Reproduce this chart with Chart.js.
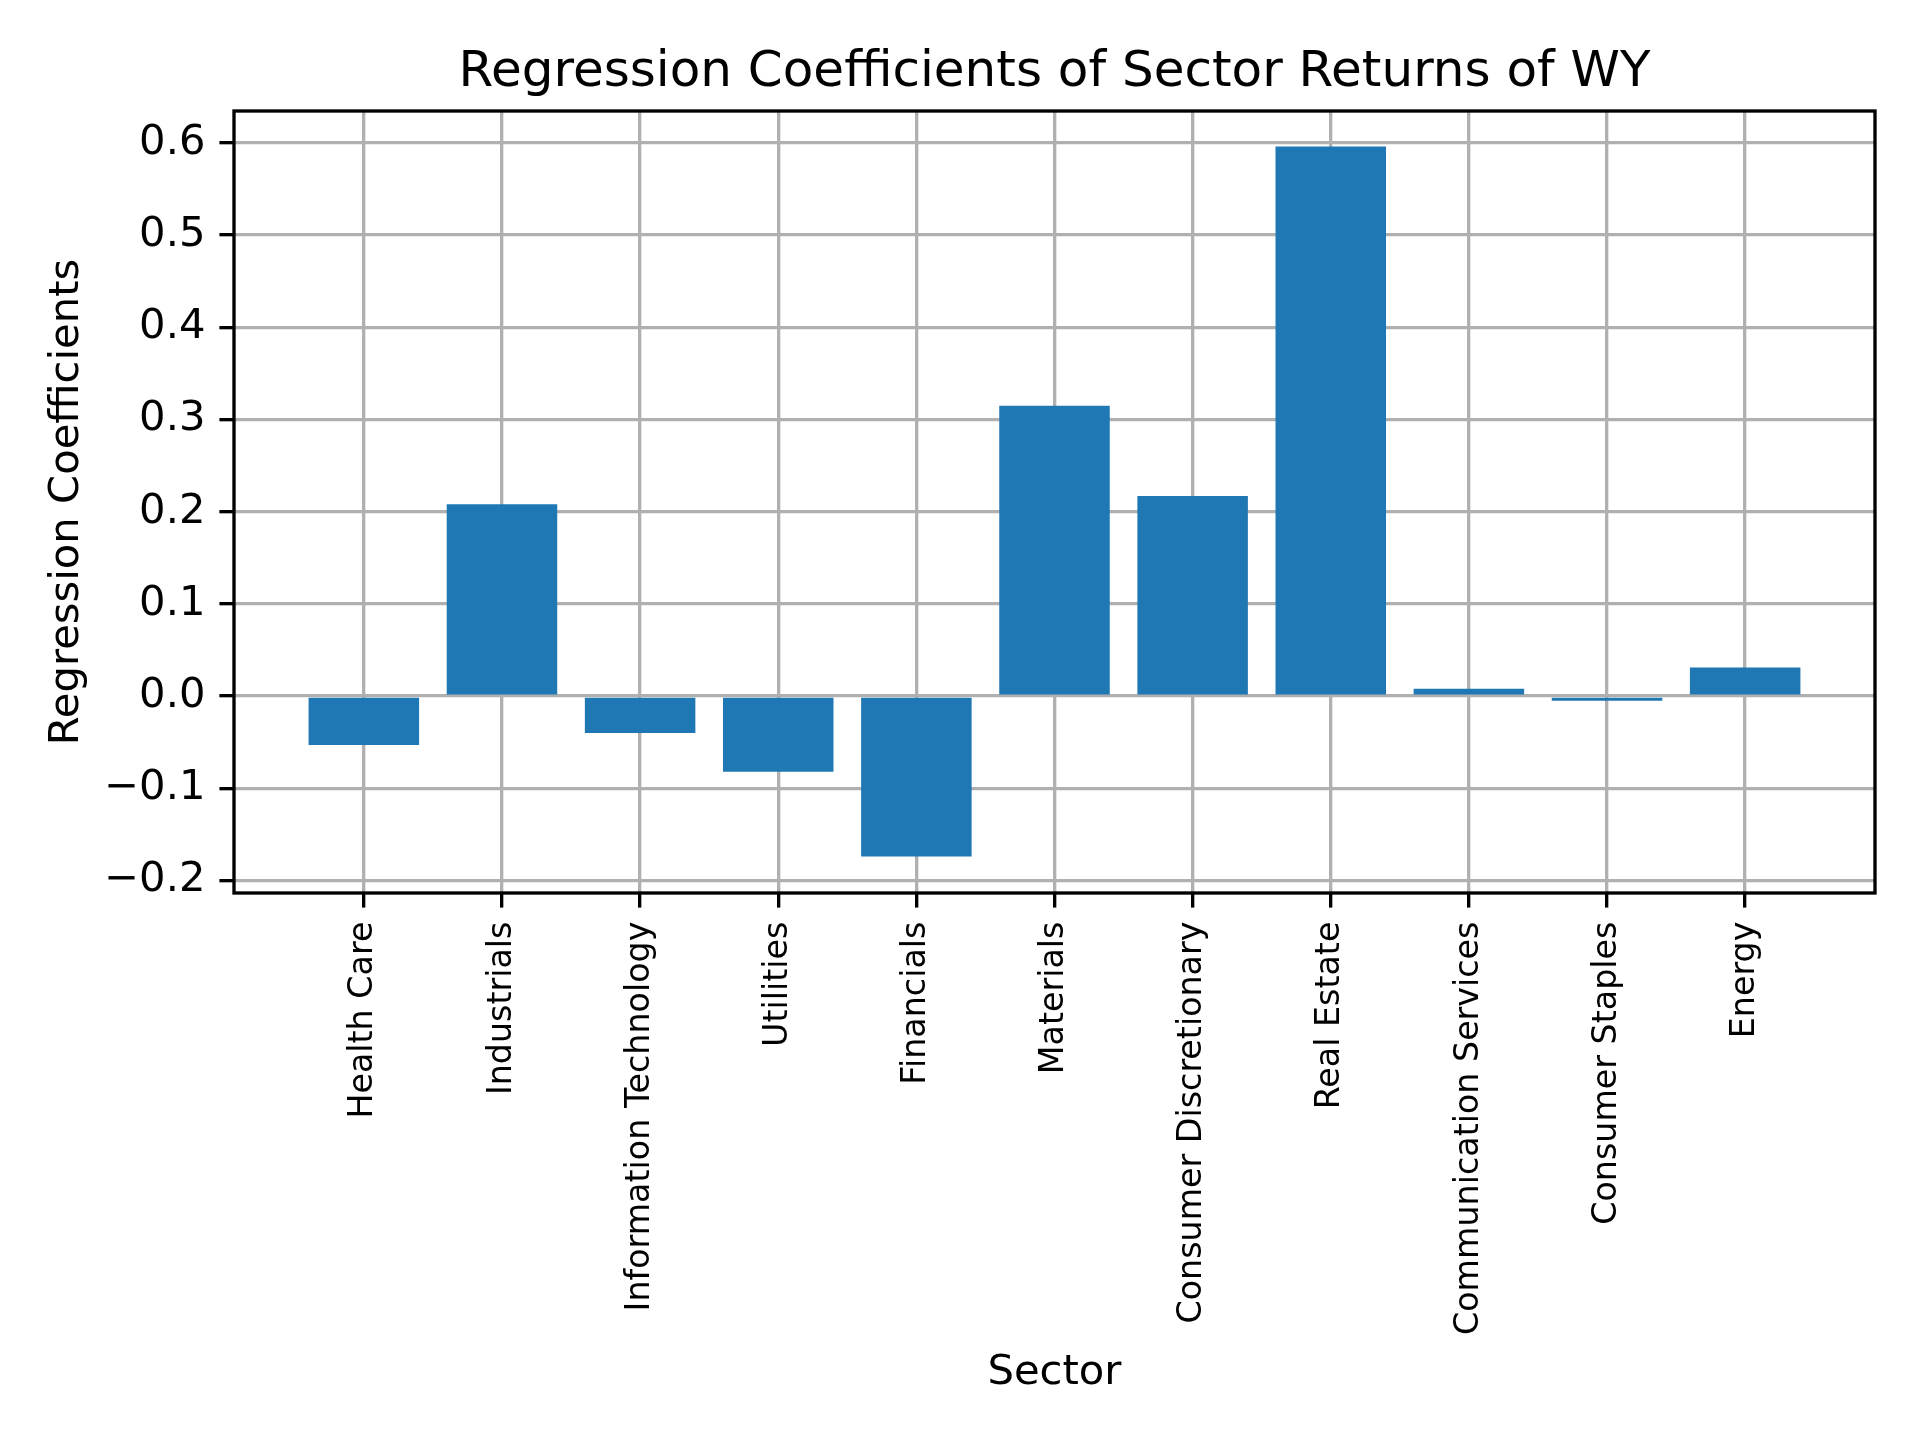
<!DOCTYPE html>
<html>
<head>
<meta charset="utf-8">
<script src="https://cdn.jsdelivr.net/npm/chart.js@4/dist/chart.umd.min.js"></script>
<style>
  html, body { margin: 0; padding: 0; background: #ffffff; }
  #wrap { width: 1920px; height: 1440px; }
</style>
</head>
<body>
<div id="wrap"><canvas id="c" width="1920" height="1440"></canvas></div>
<script>
const TITLE = "Regression Coefficients of Sector Returns of WY";
const X_LABEL = "Sector";
const Y_LABEL = "Regression Coefficients";
const categories = ["Health Care", "Industrials", "Information Technology", "Utilities", "Financials", "Materials", "Consumer Discretionary", "Real Estate", "Communication Services", "Consumer Staples", "Energy"];
const coefficients = [-0.053, 0.208, -0.040, -0.082, -0.174, 0.315, 0.217, 0.596, 0.008, -0.005, 0.031];
const yTicks = [-0.2, -0.1, 0.0, 0.1, 0.2, 0.3, 0.4, 0.5, 0.6];

const FONT = "DejaVu Sans";
const LW = 3.33;

const framePlugin = {
  id: 'frame',
  afterDraw(chart) {
    const a = chart.chartArea, ctx = chart.ctx;
    ctx.save();
    ctx.strokeStyle = '#000000';
    ctx.lineWidth = LW;
    ctx.strokeRect(a.left, a.top, a.right - a.left, a.bottom - a.top);
    ctx.restore();
  }
};

const yMin = -0.2135, yMax = 0.6345;
const xMin = -0.94, xMax = categories.length - 1 + 0.94;

new Chart(document.getElementById('c'), {
  type: 'bar',
  data: {
    datasets: [{
      data: coefficients.map((v, i) => ({ x: i, y: v })),
      backgroundColor: '#1f77b4',
      borderWidth: 0,
      barPercentage: 0.8,
      categoryPercentage: 1.0
    }]
  },
  options: {
    responsive: false,
    animation: false,
    devicePixelRatio: 1,
    layout: { padding: { top: 0, right: 45, bottom: 0, left: 0 } },
    plugins: {
      legend: { display: false },
      tooltip: { enabled: false },
      title: {
        display: true,
        text: TITLE,
        fullSize: false,
        color: '#000000',
        font: { family: FONT, size: 50, weight: 'normal', lineHeight: 1.2 },
        padding: { top: 43, bottom: 8 }
      }
    },
    scales: {
      x: {
        type: 'linear',
        min: xMin,
        max: xMax,
        offset: false,
        z: 1,
        afterBuildTicks(scale) { scale.ticks = categories.map((_, i) => ({ value: i })); },
        afterFit(scale) { scale.height = 547; },
        grid: {
          offset: false,
          color: '#b0b0b0',
          lineWidth: LW,
          drawTicks: true,
          tickLength: 14.6,
          tickColor: '#000000',
          tickWidth: LW
        },
        border: { display: false },
        ticks: {
          autoSkip: false,
          minRotation: 90,
          maxRotation: 90,
          padding: 14,
          color: '#000000',
          font: { family: FONT, size: 33.3 },
          callback: (v) => categories[v]
        },
        title: {
          display: true,
          text: X_LABEL,
          color: '#000000',
          font: { family: FONT, size: 41.7, lineHeight: 1.2 },
          padding: { top: 0, bottom: 42 }
        }
      },
      y: {
        type: 'linear',
        min: yMin,
        max: yMax,
        z: 1,
        afterBuildTicks(scale) { scale.ticks = yTicks.map(v => ({ value: v })); },
        afterFit(scale) { scale.width = 234; },
        grid: {
          color: '#b0b0b0',
          lineWidth: LW,
          drawTicks: true,
          tickLength: 14.6,
          tickColor: '#000000',
          tickWidth: LW
        },
        border: { display: false },
        ticks: {
          padding: 14,
          color: '#000000',
          font: { family: FONT, size: 41.7 },
          callback: (v) => v.toFixed(1).replace('-', '\u2212')
        },
        title: {
          display: true,
          text: Y_LABEL,
          color: '#000000',
          font: { family: FONT, size: 41.7, lineHeight: 1.2 },
          padding: { top: 42, bottom: 0 }
        }
      }
    }
  },
  plugins: [framePlugin]
});
</script>
</body>
</html>
